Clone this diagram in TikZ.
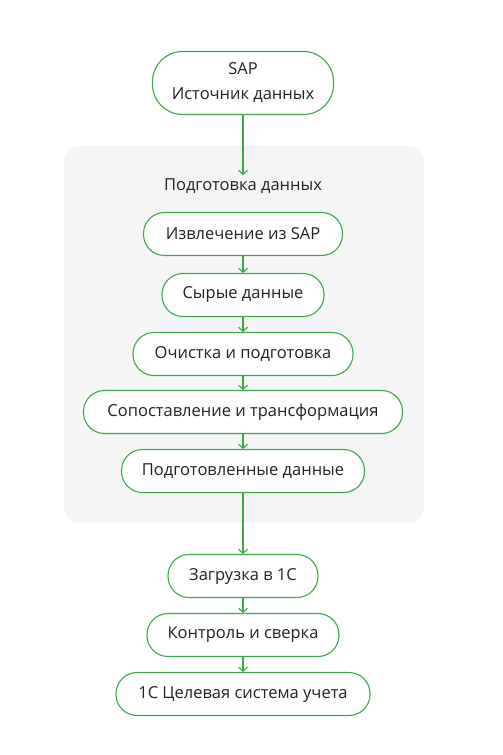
\documentclass[tikz,border=0pt]{standalone}
\usepackage{fontspec}
\setmainfont{Open Sans}
\usetikzlibrary{arrows.meta}
\definecolor{gr}{RGB}{62,168,72}
\definecolor{bgc}{RGB}{245,245,245}
\definecolor{txt}{RGB}{34,34,34}
\tikzset{
  stepbox/.style={draw=gr, line width=1.1pt, rectangle, rounded corners=21pt, fill=white,
    minimum height=43pt, inner xsep=4pt, font=\fontsize{16.5}{19}\selectfont, text=txt},
  conn/.style={draw=gr, line width=1.1pt, -{Straight Barb[length=4pt,width=9pt,line width=1.1pt]}}
}
\begin{document}
\begin{tikzpicture}[x=1pt,y=-1pt]
\useasboundingbox (0,0) rectangle (503,755);
\fill[bgc, rounded corners=16pt] (64,146) rectangle (424,523);
\node[stepbox, minimum height=63pt, minimum width=181pt, align=center, rounded corners=30pt, font=\fontsize{16.5}{25}\selectfont] (sap) at (243,83) {SAP\\Источник данных};
\node[text=txt, font=\fontsize{16.5}{19}\selectfont] (prep) at (243,186) {Подготовка данных};
\node[stepbox, minimum width=199pt] (ext) at (243,234) {Извлечение из SAP};
\node[stepbox, minimum width=162pt] (raw) at (243,295) {Сырые данные};
\node[stepbox, minimum width=220pt] (clean) at (243,354) {Очистка и подготовка};
\node[stepbox, minimum width=319pt] (map) at (243,412) {Сопоставление и трансформация};
\node[stepbox, minimum width=243pt] (ready) at (243,471) {Подготовленные данные};
\node[stepbox, minimum width=150pt] (load) at (243,576) {Загрузка в 1С};
\node[stepbox, minimum width=192pt] (ctrl) at (243,635) {Контроль и сверка};
\node[stepbox, minimum width=254pt] (tgt) at (243,694) {1С Целевая система учета};
\draw[conn] (sap) -- (prep.north);
\draw[conn] (ext) -- (raw);
\draw[conn] (raw) -- (clean);
\draw[conn] (clean) -- (map);
\draw[conn] (map) -- (ready);
\draw[conn] (ready) -- (load);
\draw[conn] (load) -- (ctrl);
\draw[conn] (ctrl) -- (tgt);
\end{tikzpicture}
\end{document}
